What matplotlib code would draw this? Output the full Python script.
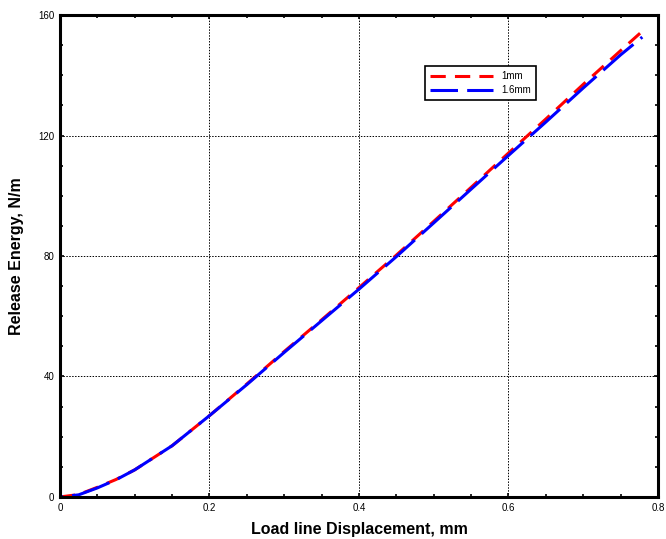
import numpy as np
import matplotlib.pyplot as plt
from matplotlib.lines import Line2D
from matplotlib.ticker import MultipleLocator

plt.rcParams['font.family'] = ['Liberation Sans', 'DejaVu Sans']

# ── Data ───────────────────────────────────────────────────────────────────
x_1mm = [0, 0.025, 0.05, 0.075, 0.1, 0.15, 0.2, 0.25, 0.3, 0.35, 0.4,
         0.45, 0.5, 0.55, 0.6, 0.65, 0.7, 0.75, 0.777]
y_1mm = [0, 0.8, 3.2, 5.8, 9.0, 17.0, 27.0, 37.5, 48.3, 58.8, 69.5,
         80.3, 91.5, 102.8, 114.2, 125.5, 137.0, 148.2, 154.2]

x_16mm = [0, 0.025, 0.05, 0.075, 0.1, 0.15, 0.2, 0.25, 0.3, 0.35, 0.4,
          0.45, 0.5, 0.55, 0.6, 0.65, 0.7, 0.75, 0.779]
y_16mm = [0, 0.7, 3.0, 5.7, 9.0, 17.0, 27.0, 37.3, 48.0, 58.5, 69.0,
          79.8, 91.0, 102.2, 113.4, 124.5, 135.8, 146.8, 152.7]

labels = ["1mm", "1.6mm"]
xticks = [0, 0.2, 0.4, 0.6, 0.8]
yticks = [0, 40, 80, 120, 160]

fig = plt.figure(figsize=(6.66, 5.39), dpi=100)
ax = fig.add_axes([0.090, 0.078, 0.898, 0.894])

# red under blue; blue gaps fall on red dashes so the curve reads continuous
ax.plot(x_1mm, y_1mm, color="red", linewidth=2.2, linestyle=(0, (5, 3)))
ax.plot(x_16mm, y_16mm, color="blue", linewidth=2.2, linestyle=(12, (13, 3)))

ax.set_xlim(0, 0.8)
ax.set_ylim(0, 160)
ax.set_xticks(xticks)
ax.set_yticks(yticks)
ax.set_xticklabels([f"{t:g}" for t in xticks])
ax.xaxis.set_minor_locator(MultipleLocator(0.05))
ax.yaxis.set_minor_locator(MultipleLocator(10))
ax.tick_params(which="both", direction="in", top=True, right=True,
               labelsize=7, width=1.2)
ax.tick_params(which="major", length=3, pad=4)
ax.tick_params(which="minor", length=2.5)

for s in ax.spines.values():
    s.set_linewidth(2.2)

ax.grid(True, which="major", color="black", linestyle=(0, (1.5, 1.5)), linewidth=0.7)

ax.set_xlabel("Load line Displacement, mm", fontsize=11.5, fontweight="bold", labelpad=7)
ax.set_ylabel("Release Energy, N/m", fontsize=11.5, fontweight="bold", labelpad=10)

# legend proxies so the handles start with a full dash
handles = [Line2D([], [], color="red", linewidth=2.2, linestyle=(0, (5, 3))),
           Line2D([], [], color="blue", linewidth=2.2, linestyle=(0, (9, 3)))]
leg = ax.legend(handles, labels, loc="upper left", bbox_to_anchor=(0.602, 0.905),
                fontsize=7, fancybox=False, framealpha=1, edgecolor="black",
                handlelength=6.5, borderpad=0.55, labelspacing=0.4)
leg.get_frame().set_linewidth(1.2)

fig.savefig("out.png", dpi=100)
